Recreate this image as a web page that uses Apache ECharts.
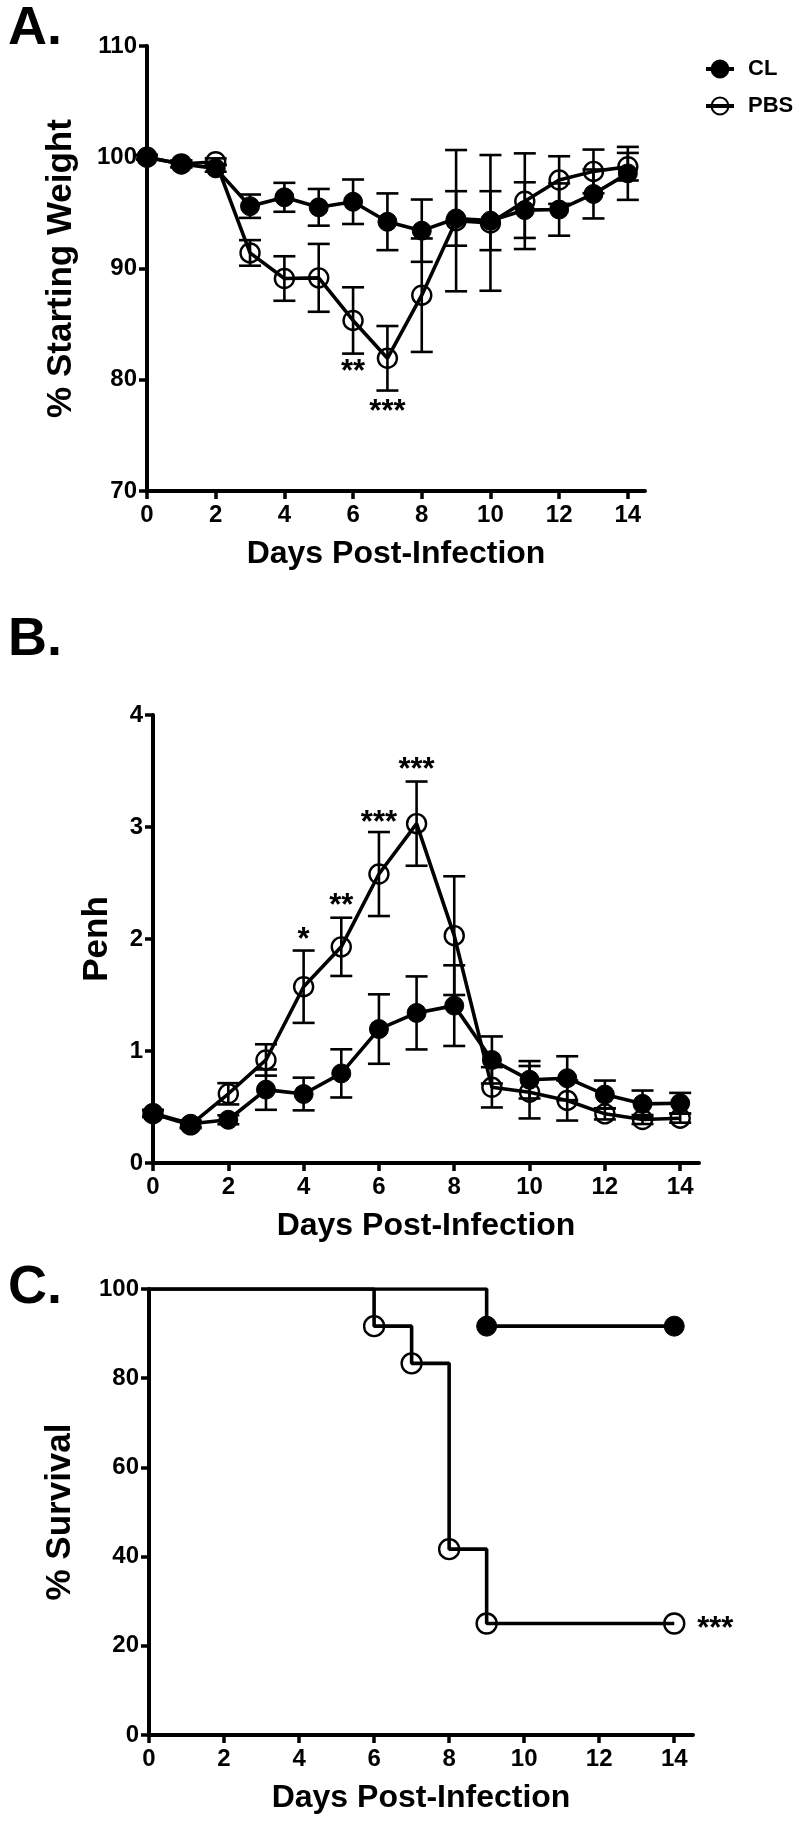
<!DOCTYPE html>
<html><head><meta charset="utf-8">
<script src="https://cdn.jsdelivr.net/npm/echarts@6/dist/echarts.min.js"></script>
<style>html,body{margin:0;padding:0;background:#fff}#c{width:793px;height:1829px}</style>
</head><body><div id="c"></div>
<script>
// ---------- DATA ----------
const days = [0,1,2,3,4,5,6,7,8,9,10,11,12,13,14];
const xTickValues = [0,2,4,6,8,10,12,14];
const seriesNames = ['CL','PBS'];

// Panel A: % starting weight (mean, SEM)
const weightCL     = [100, 99.4, 99.0, 95.6, 96.4, 95.5, 96.0, 94.2, 93.4, 94.5, 94.3, 95.25, 95.3, 96.7, 98.55];
const weightCLsem  = [0.2, 0.3, 0.3, 1.05, 1.3, 1.65, 2.0, 2.55, 2.8, 2.45, 2.65, 2.5, 2.35, 2.2, 2.38];
const weightPBS    = [100, 99.4, 99.6, 91.4, 89.1, 89.16, 85.33, 81.93, 87.6, 94.3, 94.1, 96.05, 97.95, 98.73, 99.15];
const weightPBSsem = [0.2, 0.3, 0.3, 1.15, 2.0, 3.05, 2.98, 2.9, 5.1, 6.35, 6.1, 4.3, 2.14, 1.96, 1.24];
const weightTicks  = [70, 80, 90, 100, 110];
const weightStars  = [{day:6, value:81.2, text:'**'}, {day:7, value:77.6, text:'***'}];

// Panel B: Penh (mean, SEM)
const penhCL     = [0.445, 0.35, 0.386, 0.655, 0.616, 0.80, 1.196, 1.34, 1.405, 0.92, 0.743, 0.757, 0.611, 0.528, 0.534];
const penhCLsem  = [0.03, 0.03, 0.04, 0.18, 0.146, 0.215, 0.31, 0.326, 0.36, 0.21, 0.167, 0.196, 0.125, 0.119, 0.092];
const penhPBS    = [0.44, 0.34, 0.618, 0.92, 1.574, 1.93, 2.58, 3.03, 2.03, 0.676, 0.632, 0.558, 0.439, 0.388, 0.40];
const penhPBSsem = [0.03, 0.03, 0.095, 0.14, 0.323, 0.26, 0.375, 0.376, 0.53, 0.18, 0.234, 0.179, 0.05, 0.04, 0.04];
const penhTicks  = [0, 1, 2, 3, 4];
const penhStars  = [{day:4, value:2.04, text:'*'}, {day:5, value:2.34, text:'**'}, {day:6, value:3.085, text:'***'}, {day:7, value:3.56, text:'***'}];

// Panel C: % survival (Kaplan-Meier steps)
const survDaysCL  = [0, 9, 14];
const survCL      = [100, 91.67, 91.67];
const survDaysPBS = [0, 6, 7, 8, 9, 14];
const survPBS     = [100, 91.67, 83.33, 41.67, 25, 25];
const survTicks   = [0, 20, 40, 60, 80, 100];
const survStars   = [{day:14, value:25, text:'***'}];

// ---------- CHART ----------
const FONT = 'Liberation Sans, Arial, Helvetica, sans-serif';
const chart = echarts.init(document.getElementById('c'), null, {renderer:'canvas'});

const grids = [
  {left:147, top:46,   width:498, height:445},
  {left:153, top:715,  width:546, height:448},
  {left:149, top:1289, width:544, height:446}
];
const yCfg = [
  {ticks:weightTicks, name:'% Starting Weight', gap:68},
  {ticks:penhTicks,   name:'Penh',              gap:38},
  {ticks:survTicks,   name:'% Survival',        gap:71}
];

function xAxis(i){
  return {
    gridIndex:i, type:'value', min:0, max:14.5,
    axisLine:{show:true, onZero:false, lineStyle:{color:'#000', width:4}},
    axisTick:{show:true, length:8, customValues:xTickValues, lineStyle:{color:'#000', width:3.5}},
    axisLabel:{customValues:xTickValues, fontSize:24, fontWeight:'bold', color:'#000', margin:12, fontFamily:FONT},
    splitLine:{show:false},
    name:'Days Post-Infection', nameLocation:'middle', nameGap:47,
    nameTextStyle:{fontSize:32, fontWeight:'bold', color:'#000', fontFamily:FONT}
  };
}
function yAxis(i){
  const c = yCfg[i], t = c.ticks;
  return {
    gridIndex:i, type:'value', min:t[0], max:t[t.length-1], interval:t[1]-t[0],
    axisLine:{show:true, onZero:false, lineStyle:{color:'#000', width:4}},
    axisTick:{show:true, length:8, lineStyle:{color:'#000', width:3.5}},
    axisLabel:{fontSize:24, fontWeight:'bold', color:'#000', margin:10, fontFamily:FONT},
    splitLine:{show:false},
    name:c.name, nameLocation:'middle', nameGap:c.gap, nameRotate:90,
    nameTextStyle:{fontSize:35, fontWeight:'bold', color:'#000', fontFamily:FONT}
  };
}

const filledStyle = {color:'#000', borderColor:'#000', borderWidth:1};
const openStyle   = {color:'rgba(255,255,255,0)', borderColor:'#000', borderWidth:2.4};

function lineSeries(name, gi, xs, ys, filled, extra){
  return Object.assign({
    name:name, type:'line', xAxisIndex:gi, yAxisIndex:gi,
    data: xs.map((d,k)=>[d, ys[k]]),
    symbol:'circle', symbolSize:19, showAllSymbol:true,
    lineStyle:{color:'#000', width:3.6},
    itemStyle: filled ? filledStyle : openStyle,
    emphasis:{disabled:true}, animation:false, z:3
  }, extra||{});
}

function errRender(params, api){
  const x = api.value(0), lo = api.value(1), hi = api.value(2);
  const a = api.coord([x, hi]), b = api.coord([x, lo]);
  const w = 11;
  const st = {stroke:'#000', lineWidth:2.6};
  return {type:'group', children:[
    {type:'line', shape:{x1:a[0], y1:a[1], x2:b[0], y2:b[1]}, style:st},
    {type:'line', shape:{x1:a[0]-w, y1:a[1], x2:a[0]+w, y2:a[1]}, style:st},
    {type:'line', shape:{x1:b[0]-w, y1:b[1], x2:b[0]+w, y2:b[1]}, style:st}
  ]};
}
function errSeries(gi, mean, sem){
  return {type:'custom', xAxisIndex:gi, yAxisIndex:gi, renderItem:errRender,
    data: days.map((d,k)=>[d, mean[k]-sem[k], mean[k]+sem[k]]),
    silent:true, animation:false, z:2, clip:false};
}
function starSeries(gi, stars, dx, align){
  return {type:'custom', xAxisIndex:gi, yAxisIndex:gi, silent:true, animation:false, clip:false, z:4,
    data: stars.map(s=>[s.day, s.value]),
    renderItem:function(params, api){
      const p = api.coord([api.value(0), api.value(1)]);
      return {type:'text', x:p[0]+dx, y:p[1]+6,
        style:{text:stars[params.dataIndex].text, fill:'#000', font:'bold 31px ' + FONT,
               textAlign:align, textVerticalAlign:'middle'}};
    }};
}

function survData(xs, ys){
  return xs.map((d,k)=> k===0 ? {value:[d, ys[k]], symbol:'none'} : {value:[d, ys[k]]});
}

const option = {
  backgroundColor:'#fff',
  animation:false,
  textStyle:{fontFamily:FONT},
  grid: grids,
  xAxis: [xAxis(0), xAxis(1), xAxis(2)],
  yAxis: [yAxis(0), yAxis(1), yAxis(2)],
  legend:{
    data:seriesNames, orient:'vertical', left:699, top:53,
    itemWidth:28, itemHeight:21, itemGap:15,
    lineStyle:{width:4, color:'#000'},
    textStyle:{fontSize:22, fontWeight:'bold', color:'#000', fontFamily:FONT, padding:[0,0,0,9]},
    selectedMode:false
  },
  graphic:[
    {type:'text', left:8, top:2, style:{text:'A.', font:'bold 54px ' + FONT, fill:'#000'}},
    {type:'text', left:8, top:613, style:{text:'B.', font:'bold 54px ' + FONT, fill:'#000'}},
    {type:'text', left:8, top:1261, style:{text:'C.', font:'bold 54px ' + FONT, fill:'#000'}}
  ],
  series:[
    errSeries(0, weightPBS, weightPBSsem),
    errSeries(0, weightCL, weightCLsem),
    lineSeries('PBS', 0, days, weightPBS, false),
    lineSeries('CL', 0, days, weightCL, true),
    starSeries(0, weightStars, 0, 'center'),

    errSeries(1, penhPBS, penhPBSsem),
    errSeries(1, penhCL, penhCLsem),
    lineSeries('PBS', 1, days, penhPBS, false),
    lineSeries('CL', 1, days, penhCL, true),
    starSeries(1, penhStars, 0, 'center'),

    Object.assign(lineSeries('PBS', 2, [], [], false), {data: survData(survDaysPBS, survPBS), step:'end', symbolSize:20}),
    Object.assign(lineSeries('CL', 2, [], [], true), {data: survData(survDaysCL, survCL), step:'end', symbolSize:20}),
    starSeries(2, survStars, 23, 'left')
  ]
};
chart.setOption(option);
</script>
</body></html>
